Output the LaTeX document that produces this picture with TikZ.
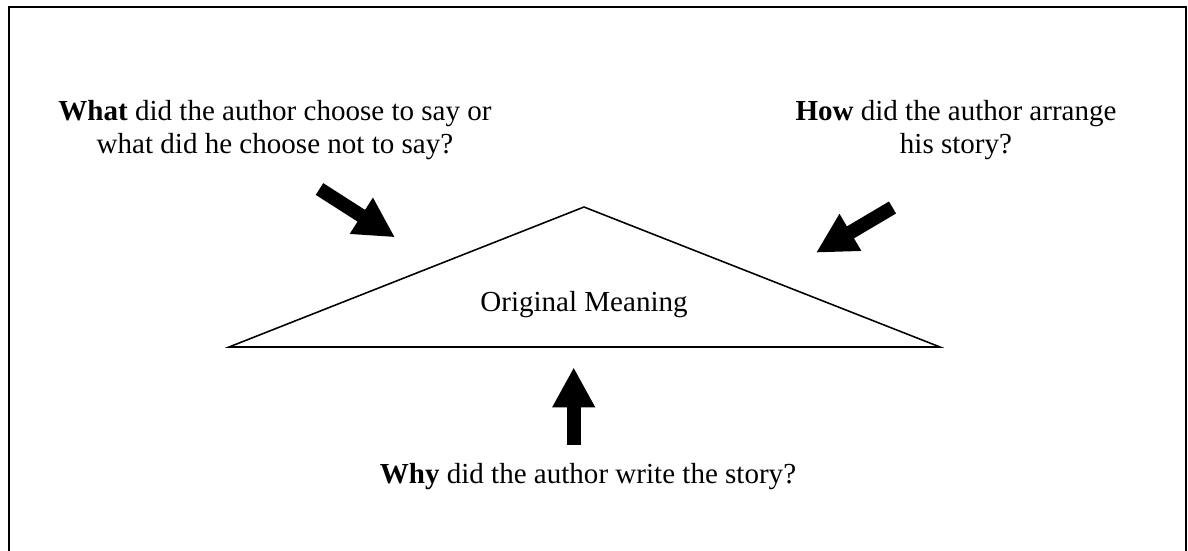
\documentclass[tikz,border=0pt]{standalone}
\usepackage{fontspec}
\setmainfont{Liberation Serif}
\usetikzlibrary{arrows.meta,positioning}

\begin{document}
\begin{tikzpicture}[
      x=0.575pt, y=-0.575pt,
      question/.style={
         align=center,
         inner sep=0pt,
         font=\fontsize{16.7}{19.2}\selectfont},
      bigarrow/.style={-{Triangle[length=23pt,width=23pt]}, line width=8pt},
      frameline/.style={line width=1.2pt}
      ]
      \useasboundingbox (0,0) rectangle (1188,550);

      % open frame, no bottom edge
      \draw [frameline] (9,552) -- (9,7) -- (1186,7) -- (1186,552);

      % triangle
      \coordinate (tl) at (229,347);
      \coordinate (apex) at (584,207);
      \coordinate (tr) at (940,347);
      \draw [line width=0.9pt] (tl) -- (apex) -- (tr) -- cycle;
      \node[question] (meaning) at (584,305) {Original Meaning};

      % the three questions
      \node[question] (what) at (275,130) {\textbf{What} did the author choose to say or\\what did he choose not to say?};
      \node[question] (how) at (956,130) {\textbf{How} did the author arrange\\his story?};
      \node[question] (why) at (588,477) {\textbf{Why} did the author write the story?};

      % arrow ends
      \coordinate (a1) at (319.5,189);
      \coordinate (b1) at (395,237.3);
      \coordinate (a2) at (892.5,207.5);
      \coordinate (b2) at (816,252.7);
      \coordinate (a3) at (573.7,445);
      \coordinate (b3) at (573.7,367.3);

    \foreach \i/\j in {a1/b1, a2/b2, a3/b3}
       \draw [bigarrow] (\i) -- (\j);
\end{tikzpicture}
\end{document}
